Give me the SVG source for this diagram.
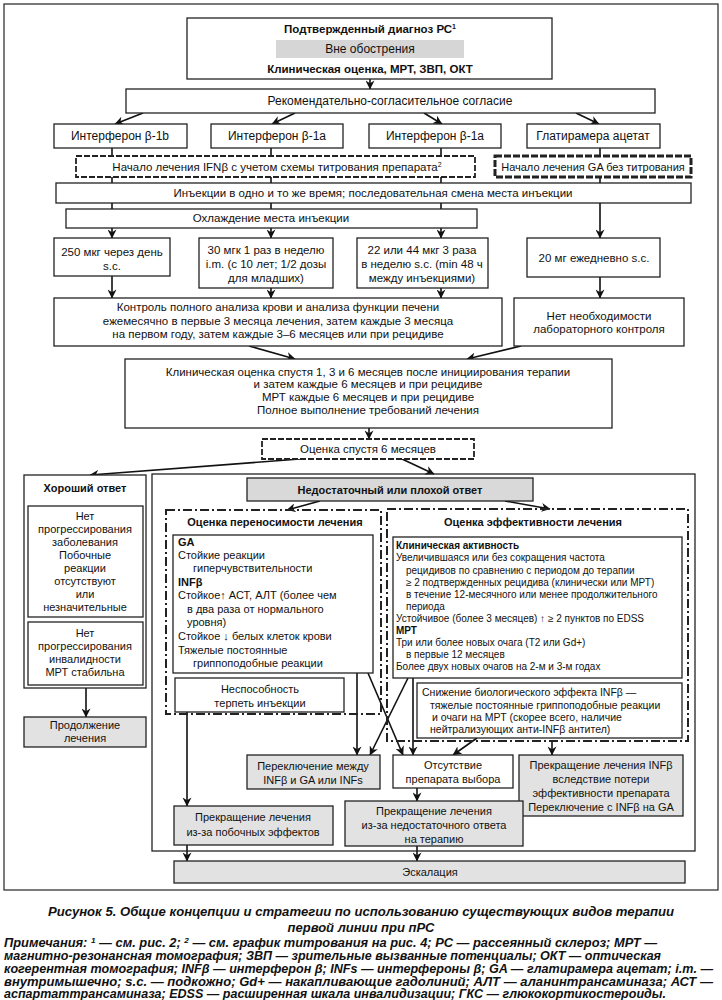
<svg xmlns="http://www.w3.org/2000/svg" width="722" height="1000" viewBox="0 0 722 1000">
<style>
text{font-family:"Liberation Sans",Arial,sans-serif;font-size:12px;fill:#111;text-anchor:middle}
.b{font-weight:bold}
.l{text-anchor:start}
.m{font-size:11px}
.s{font-size:10px}
.n{font-size:10.5px}
.cap{font-weight:bold;font-style:italic;font-size:13px}
.note{font-weight:bold;font-style:italic;font-size:12.5px;text-anchor:start}
rect{fill:#fff;stroke:#222;stroke-width:1.3}
.g{fill:#e2e2e2}
.gd{fill:#d6d6d6;stroke:none}
.gb{fill:#d9d9d9}
.d{stroke-dasharray:6 2;stroke-width:1.8}
.dt{stroke-dasharray:7 2;stroke-width:3}
.dd{fill:none;stroke-dasharray:9 3 2 3;stroke-width:2}
.c line{stroke:#111;stroke-width:1.6;marker-end:url(#ah)}
</style>
<defs>
<marker id="ah" viewBox="0 0 10 10" refX="9.5" refY="5" markerWidth="9" markerHeight="9" markerUnits="userSpaceOnUse" orient="auto"><path d="M0,0 L10,5 L0,10 L3,5 z" fill="#111"/></marker>
</defs>
<rect x="4" y="4" width="714" height="886" style="stroke-width:1.2"/>
<g class="c" id="connectors">
<line x1="370" y1="79" x2="370" y2="89"/>
<line x1="143" y1="113" x2="115" y2="124"/>
<line x1="295" y1="113" x2="272" y2="124"/>
<line x1="424" y1="113" x2="442" y2="124"/>
<line x1="576" y1="113" x2="599" y2="124"/>
<line x1="112" y1="148" x2="112" y2="238"/>
<line x1="271" y1="148" x2="271" y2="238"/>
<line x1="441" y1="148" x2="441" y2="238"/>
<line x1="600" y1="148" x2="600" y2="238"/>
<line x1="112" y1="276" x2="112" y2="298"/>
<line x1="271" y1="288" x2="271" y2="298"/>
<line x1="441" y1="288" x2="441" y2="298"/>
<line x1="600" y1="277" x2="600" y2="298"/>
<line x1="249" y1="346" x2="295" y2="359"/>
<line x1="521" y1="346" x2="467" y2="359"/>
<line x1="369" y1="428" x2="369" y2="439"/>
<line x1="300" y1="459" x2="90" y2="475"/>
<line x1="402" y1="459" x2="434" y2="474"/>
<line x1="86" y1="688" x2="86" y2="717"/>
<line x1="320" y1="501" x2="287" y2="510"/>
<line x1="505" y1="501" x2="550" y2="509"/>
<line x1="357" y1="673" x2="357" y2="755"/>
<line x1="368" y1="673" x2="403" y2="755"/>
<line x1="408" y1="678" x2="370" y2="755"/>
<line x1="413" y1="678" x2="413" y2="755"/>
<line x1="477" y1="738" x2="453" y2="755"/>
<line x1="552" y1="741" x2="552" y2="755"/>
<line x1="187" y1="712" x2="187" y2="806"/>
<line x1="417" y1="788" x2="417" y2="801"/>
<line x1="187" y1="845" x2="187" y2="861"/>
<line x1="417" y1="846" x2="417" y2="861"/>
</g>
<g id="n-diag">
<rect x="187" y="18" width="365" height="61"/>
<rect class="gd" x="276" y="40" width="188" height="18"/>
<text class="b" x="370" y="33" style="font-size:11.5px">Подтвержденный диагноз РС<tspan style="font-size:7px" dy="-4">1</tspan></text>
<text x="370" y="53">Вне обострения</text>
<text class="b" x="370" y="73" style="font-size:11.5px">Клиническая оценка, МРТ, ЗВП, ОКТ</text>
</g>
<g id="n-consent"><rect x="126" y="89" width="529" height="24"/><text x="390" y="105">Рекомендательно-согласительное согласие</text></g>
<g id="n-ifn1b"><rect x="54" y="124" width="133" height="24"/><text x="120" y="140">Интерферон β-1b</text></g>
<g id="n-ifn1a-1"><rect x="211" y="124" width="132" height="24"/><text x="277" y="140">Интерферон β-1a</text></g>
<g id="n-ifn1a-2"><rect x="369" y="124" width="132" height="24"/><text x="435" y="140">Интерферон β-1a</text></g>
<g id="n-ga"><rect x="527" y="124" width="133" height="24"/><text x="593" y="140">Глатирамера ацетат</text></g>
<g id="n-start-ifn"><rect class="d" x="76" y="156" width="399" height="21"/><text x="277" y="171" style="font-size:11.5px">Начало лечения IFNβ с учетом схемы титрования препарата<tspan style="font-size:7px" dy="-4">2</tspan></text></g>
<g id="n-start-ga"><rect class="dt" x="495" y="156" width="196" height="21"/><text x="593" y="171" style="font-size:11px">Начало лечения GA без титрования</text></g>
<g id="n-inject"><rect x="56" y="183" width="635" height="20"/><text x="373" y="197" style="font-size:11.5px">Инъекции в одно и то же время; последовательная смена места инъекции</text></g>
<g id="n-cool"><rect x="66" y="209" width="411" height="19"/><text x="271" y="222" style="font-size:11.5px">Охлаждение места инъекции</text></g>
<g id="n-dose1"><rect x="54" y="238" width="116" height="38"/><text x="112" y="256" style="font-size:11.5px">250 мкг через день</text><text x="112" y="270" style="font-size:11.5px">s.c.</text></g>
<g id="n-dose2"><rect x="199" y="238" width="134" height="50"/><text x="266" y="254" style="font-size:11.5px">30 мгк 1 раз в неделю</text><text x="266" y="268" style="font-size:11.5px">i.m. (с 10 лет; 1/2 дозы</text><text x="266" y="282" style="font-size:11.5px">для младших)</text></g>
<g id="n-dose3"><rect x="357" y="238" width="131" height="50"/><text x="422" y="254" style="font-size:11.5px">22 или 44 мкг 3 раза</text><text x="422" y="268" style="font-size:11.5px">в неделю s.c. (min 48 ч</text><text x="422" y="282" style="font-size:11.5px">между инъекциями)</text></g>
<g id="n-dose4"><rect x="527" y="238" width="133" height="39"/><text x="594" y="262" style="font-size:11.5px">20 мг ежедневно s.c.</text></g>
<g id="n-lab"><rect x="54" y="298" width="448" height="48"/><text x="278" y="311" style="font-size:11.5px">Контроль полного анализа крови и анализа функции печени</text><text x="278" y="325" style="font-size:11.5px">ежемесячно в первые 3 месяца лечения, затем каждые 3 месяца</text><text x="278" y="338" style="font-size:11.5px">на первом году, затем каждые 3–6 месяцев или при рецидиве</text></g>
<g id="n-nolab"><rect x="514" y="298" width="170" height="48"/><text x="599" y="320" style="font-size:11.5px">Нет необходимости</text><text x="599" y="333" style="font-size:11.5px">лабораторного контроля</text></g>
<g id="n-clin"><rect x="125" y="359" width="487" height="69"/><text x="368" y="376" style="font-size:11.5px">Клиническая оценка спустя 1, 3 и 6 месяцев после инициирования терапии</text><text x="368" y="388" style="font-size:11.5px">и затем каждые 6 месяцев и при рецидиве</text><text x="368" y="401" style="font-size:11.5px">МРТ каждые 6 месяцев и при рецидиве</text><text x="368" y="414" style="font-size:11.5px">Полное выполнение требований лечения</text></g>
<g id="n-eval6"><rect class="d" x="262" y="439" width="212" height="20"/><text x="368" y="453" style="font-size:11.5px">Оценка спустя 6 месяцев</text></g>
<g id="n-good">
<rect x="24" y="475" width="122" height="213"/>
<text class="b m" x="85" y="492">Хороший ответ</text>
<rect x="28" y="506" width="115" height="111"/>
<text class="m" x="85" y="520">Нет</text><text class="m" x="85" y="533">прогрессирования</text><text class="m" x="85" y="546">заболевания</text><text class="m" x="85" y="559">Побочные</text><text class="m" x="85" y="572">реакции</text><text class="m" x="85" y="585">отсутствуют</text><text class="m" x="85" y="598">или</text><text class="m" x="85" y="611">незначительные</text>
<rect x="28" y="622" width="115" height="63"/>
<text class="m" x="85" y="637">Нет</text><text class="m" x="85" y="650">прогрессирования</text><text class="m" x="85" y="663">инвалидности</text><text class="m" x="85" y="676">МРТ стабильна</text>
</g>
<g id="n-continue"><rect class="g" x="24" y="717" width="122" height="30"/><text class="m" x="85" y="729">Продолжение</text><text class="m" x="85" y="742">лечения</text></g>
<g id="n-poor-frame"><rect x="152" y="474" width="543" height="377" style="fill:none"/></g>
<g id="n-poor"><rect class="gb" x="247" y="478" width="286" height="23"/><text class="b m" x="390" y="494">Недостаточный или плохой ответ</text></g>
<g id="n-tol">
<rect class="dd" x="166" y="510" width="215" height="204"/>
<text class="b m" x="275" y="526">Оценка переносимости лечения</text>
<rect x="173" y="535" width="200" height="138"/>
<text class="b m l" x="178" y="546">GA</text>
<text class="m l" x="178" y="559">Стойкие реакции</text>
<text class="m l" x="193" y="572">гиперчувствительности</text>
<text class="b m l" x="178" y="586">INFβ</text>
<text class="m l" x="178" y="599">Стойкое↑ АСТ, АЛТ (более чем</text>
<text class="m l" x="187" y="613">в два раза от нормального</text>
<text class="m l" x="187" y="626">уровня)</text>
<text class="m l" x="178" y="640">Стойкое ↓ белых клеток крови</text>
<text class="m l" x="178" y="654">Тяжелые постоянные</text>
<text class="m l" x="193" y="667">гриппоподобные реакции</text>
</g>
<g id="n-inj"><rect x="175" y="678" width="169" height="34"/><text class="m" x="260" y="693">Неспособность</text><text class="m" x="260" y="707">терпеть инъекции</text></g>
<g id="n-eff">
<rect class="dd" x="387" y="509" width="301" height="232"/>
<text class="b m" x="533" y="526">Оценка эффективности лечения</text>
<rect x="393" y="537" width="289" height="141"/>
<text class="b s l" x="396" y="549">Клиническая активность</text>
<text class="s l" x="396" y="561">Увеличившаяся или без сокращения частота</text>
<text class="s l" x="406" y="574">рецидивов по сравнению с периодом до терапии</text>
<text class="s l" x="406" y="586">≥ 2 подтвержденных рецидива (клинически или МРТ)</text>
<text class="s l" x="406" y="598">в течение 12-месячного или менее продолжительного</text>
<text class="s l" x="406" y="610">периода</text>
<text class="s l" x="396" y="622">Устойчивое (более 3 месяцев) ↑ ≥ 2 пунктов по EDSS</text>
<text class="b s l" x="396" y="634">МРТ</text>
<text class="s l" x="396" y="646">Три или более новых очага (T2 или Gd+)</text>
<text class="s l" x="406" y="658">в первые 12 месяцев</text>
<text class="s l" x="396" y="670">Более двух новых очагов на 2-м и 3-м годах</text>
</g>
<g id="n-bio"><rect x="417" y="683" width="265" height="55"/>
<text class="n l" x="422" y="696">Снижение биологического эффекта INFβ —</text>
<text class="n l" x="430" y="709">тяжелые постоянные гриппоподобные реакции</text>
<text class="n l" x="432" y="721">и очаги на МРТ (скорее всего, наличие</text>
<text class="n l" x="430" y="733">нейтрализующих анти-INFβ антител)</text>
</g>
<g id="n-switch"><rect class="g" x="247" y="755" width="133" height="34"/><text class="m" x="313" y="770">Переключение между</text><text class="m" x="313" y="784">INFβ и GA или INFs</text></g>
<g id="n-nochoice"><rect x="393" y="755" width="120" height="33"/><text class="m" x="453" y="769">Отсутствие</text><text class="m" x="453" y="783">препарата выбора</text></g>
<g id="n-stop-ifn"><rect class="g" x="519" y="755" width="164" height="61"/><text class="m" x="601" y="769">Прекращение лечения INFβ</text><text class="m" x="601" y="783">вследствие потери</text><text class="m" x="601" y="797">эффективности препарата</text><text class="m" x="601" y="811">Переключение с INFβ на GA</text></g>
<g id="n-stop-side"><rect class="g" x="174" y="806" width="159" height="39"/><text class="m" x="253" y="821">Прекращение лечения</text><text class="m" x="253" y="836">из-за побочных эффектов</text></g>
<g id="n-stop-resp"><rect class="g" x="345" y="801" width="178" height="45"/><text class="m" x="434" y="815">Прекращение лечения</text><text class="m" x="434" y="829">из-за недостаточного ответа</text><text class="m" x="434" y="843">на терапию</text></g>
<g id="n-escal"><rect class="g" x="174" y="861" width="511" height="22"/><text class="m" x="430" y="876">Эскалация</text></g>
<g id="caption">
<text class="cap" x="361" y="916" textLength="626" lengthAdjust="spacingAndGlyphs">Рисунок 5. Общие концепции и стратегии по использованию существующих видов терапии</text>
<text class="cap" x="361" y="932">первой линии при пРС</text>
<text class="note" x="4" y="947" textLength="653" lengthAdjust="spacingAndGlyphs">Примечания: <tspan style="font-size:8px" dy="-4">1</tspan><tspan dy="4"> — см. рис. 2; </tspan><tspan style="font-size:8px" dy="-4">2</tspan><tspan dy="4"> — см. график титрования на рис. 4; РС — рассеянный склероз; МРТ —</tspan></text>
<text class="note" x="4" y="960" textLength="657" lengthAdjust="spacingAndGlyphs">магнитно-резонансная томография; ЗВП — зрительные вызванные потенциалы; ОКТ — оптическая</text>
<text class="note" x="4" y="973" textLength="709" lengthAdjust="spacingAndGlyphs">когерентная томография; INFβ — интерферон β; INFs — интерфероны β; GA — глатирамера ацетат; i.m. —</text>
<text class="note" x="4" y="986" textLength="709" lengthAdjust="spacingAndGlyphs">внутримышечно; s.c. — подкожно; Gd+ — накапливающие гадолиний; АЛТ — аланинтрансаминаза; АСТ —</text>
<text class="note" x="4" y="998" textLength="662" lengthAdjust="spacingAndGlyphs">аспартаттрансаминаза; EDSS — расширенная шкала инвалидизации; ГКС — глюкокортикостероиды.</text>
</g>
</svg>
